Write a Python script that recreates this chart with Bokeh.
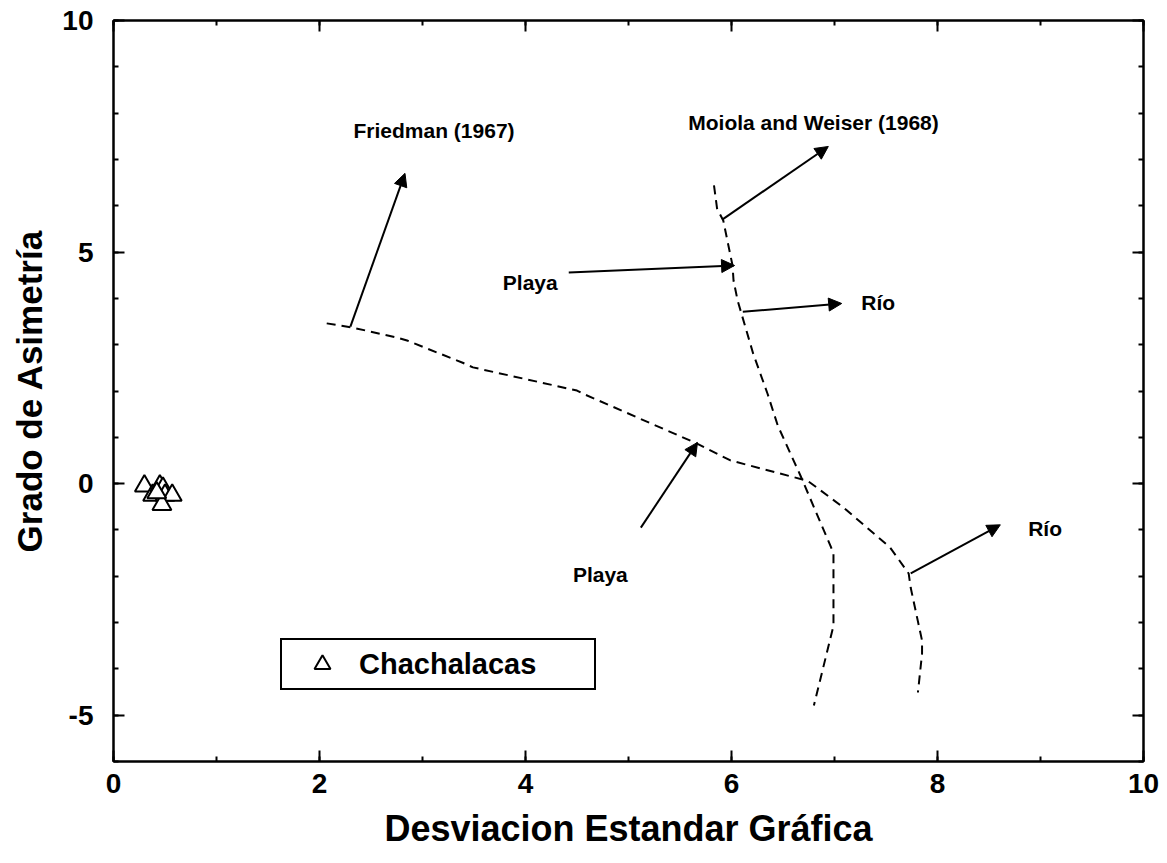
from bokeh.plotting import figure
from bokeh.models import (LinearAxis, SingleIntervalTicker, Arrow, NormalHead,
                          Legend, LegendItem, ColumnDataSource, Range1d,
                          CustomJSTickFormatter)
from bokeh.core.properties import value
from bokeh.embed import file_html
from bokeh.resources import INLINE

# ---- data ----
chach_x = [0.30, 0.38, 0.45, 0.48, 0.50, 0.57, 0.47, 0.42]
chach_y = [-0.05, -0.25, -0.05, -0.10, -0.25, -0.25, -0.45, -0.20]

friedman_x = [2.07, 2.32, 2.76, 2.85, 3.39, 3.49, 4.50, 4.56, 5.67, 5.99, 6.74, 7.09, 7.54, 7.72, 7.74, 7.85, 7.85, 7.81]
friedman_y = [3.46, 3.37, 3.15, 3.09, 2.61, 2.51, 2.01, 1.94, 0.86, 0.50, 0.06, -0.52, -1.38, -1.94, -2.25, -3.39, -3.67, -4.51]

moiola_x = [5.83, 5.86, 5.92, 6.01, 6.02, 6.06, 6.21, 6.35, 6.45, 6.67, 6.96, 6.99, 6.99, 6.80]
moiola_y = [6.44, 5.94, 5.68, 4.71, 4.38, 3.95, 2.81, 1.94, 1.25, 0.17, -1.34, -1.51, -3.07, -4.79]

label_text = ["Friedman (1967)", "Moiola and Weiser (1968)", "Playa", "Río", "Río", "Playa"]
label_x = [2.33, 5.58, 3.78, 7.26, 8.88, 4.46]
label_y = [7.62, 7.80, 4.34, 3.91, -0.97, -1.97]

arrow_x0 = [2.30, 5.91, 4.42, 6.11, 7.74, 5.12]
arrow_y0 = [3.39, 5.70, 4.56, 3.71, -1.94, -0.95]
arrow_x1 = [2.83, 6.94, 6.03, 7.07, 8.61, 5.67]
arrow_y1 = [6.70, 7.28, 4.71, 3.89, -0.89, 0.89]

x_ticks_interval = 2
y_ticks_interval = 5

FONT = "Liberation Sans"

p = figure(width=1159, height=855, output_backend="svg", toolbar_location=None,
           x_range=Range1d(0, 10), y_range=Range1d(-6, 10),
           min_border_left=113, min_border_right=16, min_border_top=20, min_border_bottom=94,
           x_axis_label="Desviacion Estandar Gráfica", y_axis_label="Grado de Asimetría")

p.xgrid.visible = False
p.ygrid.visible = False
p.outline_line_color = "black"
p.outline_line_width = 2
p.background_fill_color = "white"
p.border_fill_color = "white"

plain = CustomJSTickFormatter(code="return tick.toString();")


def style_axis(ax, labels=True):
    ax.axis_line_width = 2
    ax.axis_line_color = "black"
    ax.major_tick_in = 11
    ax.major_tick_out = 0
    ax.minor_tick_in = 5
    ax.minor_tick_out = 0
    ax.major_tick_line_width = 2
    ax.minor_tick_line_width = 2
    ax.major_tick_line_color = "black"
    ax.minor_tick_line_color = "black"
    ax.major_label_text_font = FONT
    ax.major_label_text_font_style = "bold"
    ax.major_label_text_font_size = "28px"
    ax.major_label_text_color = "black"
    if labels:
        ax.formatter = plain
    else:
        ax.formatter = CustomJSTickFormatter(code="return '';")
        ax.major_label_standoff = 0


p.xaxis.ticker = SingleIntervalTicker(interval=x_ticks_interval, num_minor_ticks=2)
p.yaxis.ticker = SingleIntervalTicker(interval=y_ticks_interval, num_minor_ticks=5)
style_axis(p.xaxis[0])
style_axis(p.yaxis[0])
p.xaxis.major_label_standoff = 12
p.yaxis.major_label_standoff = 20
p.xaxis.axis_label_text_font = FONT
p.xaxis.axis_label_text_font_style = "bold"
p.xaxis.axis_label_text_font_size = "36px"
p.xaxis.axis_label_standoff = 12
p.yaxis.axis_label_text_font = FONT
p.yaxis.axis_label_text_font_style = "bold"
p.yaxis.axis_label_text_font_size = "35px"
p.yaxis.axis_label_standoff = 10
p.xaxis.axis_label_text_color = "black"
p.yaxis.axis_label_text_color = "black"

top = LinearAxis(ticker=SingleIntervalTicker(interval=x_ticks_interval, num_minor_ticks=2))
style_axis(top, labels=False)
p.add_layout(top, "above")
right = LinearAxis(ticker=SingleIntervalTicker(interval=y_ticks_interval, num_minor_ticks=5))
style_axis(right, labels=False)
p.add_layout(right, "right")

# dashed curves
p.line(friedman_x, friedman_y, line_color="black", line_width=2, line_dash="9 6")
p.line(moiola_x, moiola_y, line_color="black", line_width=2, line_dash="9 6")

# arrows
asrc = ColumnDataSource(dict(x0=arrow_x0, y0=arrow_y0, x1=arrow_x1, y1=arrow_y1))
p.add_layout(Arrow(x_start="x0", y_start="y0", x_end="x1", y_end="y1", source=asrc,
                   line_width=2, line_color="black",
                   end=NormalHead(size=13, fill_color="black", line_color="black", line_width=1)))

# labels
p.text(x=label_x, y=label_y, text=label_text, text_font=value(FONT),
       text_font_style="bold", text_font_size="21px", text_baseline="middle",
       text_align="left", text_color="black")

# data points
pts = p.scatter(chach_x, chach_y, marker="triangle", size=19, fill_color="white",
                line_color="black", line_width=2)

legend = Legend(items=[LegendItem(label="Chachalacas", renderers=[pts])],
                location=(167, 71), border_line_color="black", border_line_width=2,
                border_line_alpha=1.0,
                padding=4, margin=0, glyph_width=72, glyph_height=40,
                label_standoff=1, label_width=231, label_height=28,
                label_text_font=FONT, label_text_font_style="bold",
                label_text_font_size="29px", label_text_color="black",
                background_fill_alpha=1.0)
p.add_layout(legend)

open("out.html", "w").write(file_html(p, INLINE))
